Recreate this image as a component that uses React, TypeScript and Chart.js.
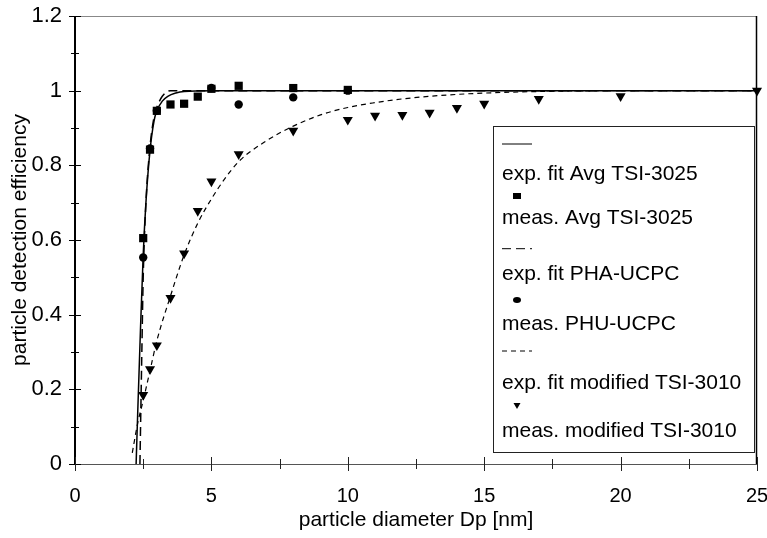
import React, { useEffect, useRef } from "react";
import { Chart, registerables } from "chart.js";

Chart.register(...registerables);

// ---------- data ----------
const xTickValues = [0, 5, 10, 15, 20, 25];
const yTickValues = [0, 0.2, 0.4, 0.6, 0.8, 1, 1.2];

const seriesLabels = [
  "exp. fit Avg TSI-3025",
  "meas. Avg TSI-3025",
  "exp. fit PHA-UCPC",
  "meas. PHU-UCPC",
  "exp. fit modified TSI-3010",
  "meas. modified TSI-3010",
];

// exp. fit Avg TSI-3025 (solid)
const fitTsi3025Dp = [2.24, 2.3, 2.4, 2.5, 2.6, 2.75, 2.9, 3.0, 3.2, 3.4, 3.7, 4, 5, 25];
const fitTsi3025Eff = [0, 0.14, 0.36, 0.56, 0.7, 0.84, 0.92, 0.946, 0.972, 0.985, 0.994, 0.998, 1.0, 1.0];

// meas. Avg TSI-3025 (squares)
const measTsi3025Dp = [2.5, 2.75, 3, 3.5, 4, 4.5, 5, 6, 8, 10];
const measTsi3025Eff = [0.605, 0.842, 0.946, 0.963, 0.965, 0.984, 1.005, 1.013, 1.007, 1.002];

// exp. fit PHA-UCPC (long dashes)
const fitPhaDp = [2.38, 2.45, 2.5, 2.6, 2.75, 2.9, 3.0, 3.2, 3.5, 25];
const fitPhaEff = [0, 0.3, 0.5, 0.7, 0.85, 0.93, 0.955, 0.985, 1.0, 1.0];

// meas. PHU-UCPC (circles)
const measPhuDp = [2.5, 2.75, 3, 5, 6, 8, 10];
const measPhuEff = [0.553, 0.845, 0.946, 1.007, 0.963, 0.982, 1.0];

// exp. fit modified TSI-3010 (short dashes)
const fitTsi3010Dp = [2.1, 2.3, 2.5, 2.75, 3, 3.5, 4, 4.5, 5, 5.5, 6, 7, 8, 9, 10, 11, 12, 14, 16, 18, 20, 25];
const fitTsi3010Eff = [0.03, 0.11, 0.17, 0.25, 0.33, 0.45, 0.56, 0.645, 0.71, 0.765, 0.81, 0.865, 0.905, 0.935, 0.955, 0.968, 0.978, 0.99, 0.996, 0.999, 1.0, 1.0];

// meas. modified TSI-3010 (triangles)
const measTsi3010Dp = [2.5, 2.75, 3, 3.5, 4, 4.5, 5, 6, 8, 10, 11, 12, 13, 14, 15, 17, 20, 25];
const measTsi3010Eff = [0.185, 0.254, 0.318, 0.445, 0.564, 0.678, 0.757, 0.83, 0.893, 0.922, 0.933, 0.935, 0.941, 0.954, 0.965, 0.978, 0.985, 1.0];

const FONT = "'Liberation Sans', Arial, sans-serif";

const pts = (xs: number[], ys: number[]) => xs.map((x, i) => ({ x, y: ys[i] }));

const decoPlugin = {
  id: "deco",
  beforeDatasetsDraw(chart: any) {
    const { ctx, chartArea: a, scales } = chart;
    const xs = scales.x;
    const ys = scales.y;
    ctx.save();
    // top border
    ctx.strokeStyle = "#888";
    ctx.lineWidth = 1;
    ctx.beginPath();
    ctx.moveTo(a.left, a.top + 0.5);
    ctx.lineTo(a.right, a.top + 0.5);
    ctx.stroke();
    // right border
    ctx.strokeStyle = "#000";
    ctx.lineWidth = 1.5;
    ctx.beginPath();
    ctx.moveTo(a.right - 0.5, a.top);
    ctx.lineTo(a.right - 0.5, a.bottom);
    ctx.stroke();
    // bottom axis
    ctx.strokeStyle = "#555";
    ctx.lineWidth = 1;
    ctx.beginPath();
    ctx.moveTo(a.left, a.bottom + 0.5);
    ctx.lineTo(a.right, a.bottom + 0.5);
    ctx.stroke();
    // left axis
    ctx.strokeStyle = "#000";
    ctx.lineWidth = 2;
    ctx.beginPath();
    ctx.moveTo(a.left, a.top);
    ctx.lineTo(a.left, a.bottom + 1);
    ctx.stroke();
    // y ticks (crossing)
    ctx.lineWidth = 1;
    ctx.strokeStyle = "#000";
    for (let i = 0; i <= 12; i++) {
      const v = i / 10;
      const py = Math.round(ys.getPixelForValue(v)) + 0.5;
      const h = i % 2 === 0 ? 6 : 4;
      ctx.beginPath();
      ctx.moveTo(a.left - h, py);
      ctx.lineTo(a.left + h, py);
      ctx.stroke();
    }
    // x ticks (crossing)
    ctx.strokeStyle = "#222";
    for (let i = 0; i <= 10; i++) {
      const v = i * 2.5;
      const px = Math.round(xs.getPixelForValue(v)) + 0.5;
      const h = i % 2 === 0 ? 7 : 5;
      ctx.beginPath();
      ctx.moveTo(px, a.bottom - h);
      ctx.lineTo(px, a.bottom + h);
      ctx.stroke();
    }
    ctx.restore();
  },
  afterDraw(chart: any) {
    const { ctx, chartArea: a } = chart;
    const bx = a.right - 264;
    const by = a.top + 110;
    const bw = 261;
    const bh = 326;
    ctx.save();
    ctx.fillStyle = "#fff";
    ctx.fillRect(bx, by, bw, bh);
    ctx.strokeStyle = "#222";
    ctx.lineWidth = 1;
    ctx.strokeRect(bx + 0.5, by + 0.5, bw, bh);

    const textX = bx + 9;
    const markX = bx + 24;
    const textRows = [48.5, 92, 148, 198.6, 257, 305];
    const symRows = [18, 70, 122.7, 174, 225, 280];
    const ds = chart.data.datasets;
    ctx.fillStyle = "#000";
    ctx.font = `21px ${FONT}`;
    ctx.textBaseline = "middle";
    ctx.textAlign = "left";
    for (let i = 0; i < ds.length; i++) {
      const sy = by + symRows[i];
      const d = ds[i];
      if (d.showLine) {
        ctx.save();
        ctx.strokeStyle = "#000";
        ctx.lineWidth = 1;
        ctx.setLineDash(d.borderDash || []);
        ctx.beginPath();
        ctx.moveTo(textX, sy);
        ctx.lineTo(textX + 30, sy);
        ctx.stroke();
        ctx.restore();
      } else {
        ctx.save();
        ctx.fillStyle = "#000";
        if (d.pointStyle === "rect") {
          ctx.fillRect(markX - 4, sy - 3, 8, 6);
        } else if (d.pointStyle === "circle") {
          ctx.beginPath();
          ctx.ellipse(markX, sy, 4, 3, 0, 0, Math.PI * 2);
          ctx.fill();
        } else {
          ctx.beginPath();
          ctx.moveTo(markX - 3.5, sy - 3);
          ctx.lineTo(markX + 3.5, sy - 3);
          ctx.lineTo(markX, sy + 3);
          ctx.closePath();
          ctx.fill();
        }
        ctx.restore();
      }
      ctx.fillText(d.label, textX, by + textRows[i]);
    }
    ctx.restore();
  },
};

export default function App() {
  const ref = useRef<HTMLCanvasElement | null>(null);

  useEffect(() => {
    if (!ref.current) return;
    const lineBase = {
      showLine: true,
      pointRadius: 0,
      borderColor: "#000",
      backgroundColor: "#000",
      cubicInterpolationMode: "monotone" as const,
      clip: false as const,
    };
    const pointBase = {
      showLine: false,
      borderColor: "#000",
      backgroundColor: "#000",
      borderWidth: 0,
      clip: false as const,
    };
    const chart = new Chart(ref.current, {
      type: "scatter",
      data: {
        datasets: [
          { ...lineBase, label: seriesLabels[0], data: pts(fitTsi3025Dp, fitTsi3025Eff), borderWidth: 1.5, borderDash: [] },
          { ...pointBase, label: seriesLabels[1], data: pts(measTsi3025Dp, measTsi3025Eff), pointStyle: "rect", pointRadius: 5.8 },
          { ...lineBase, label: seriesLabels[2], data: pts(fitPhaDp, fitPhaEff), borderWidth: 1.5, borderDash: [9, 5] },
          { ...pointBase, label: seriesLabels[3], data: pts(measPhuDp, measPhuEff), pointStyle: "circle", pointRadius: 4.2 },
          { ...lineBase, label: seriesLabels[4], data: pts(fitTsi3010Dp, fitTsi3010Eff), borderWidth: 1.2, borderDash: [5, 4] },
          { ...pointBase, label: seriesLabels[5], data: pts(measTsi3010Dp, measTsi3010Eff), pointStyle: "triangle", rotation: 180, pointRadius: 5.8 },
        ],
      } as any,
      options: {
        animation: false,
        responsive: false,
        layout: { padding: { top: 16, right: 10, left: 0, bottom: 0 } },
        plugins: { legend: { display: false }, tooltip: { enabled: false } },
        scales: {
          x: {
            type: "linear",
            min: 0,
            max: 25,
            afterBuildTicks: (s: any) => {
              s.ticks = xTickValues.map((v) => ({ value: v }));
            },
            afterFit: (s: any) => {
              s.height = 74;
              s.paddingLeft = 0;
              s.paddingRight = 0;
            },
            ticks: { color: "#000", font: { family: FONT, size: 20 }, padding: 20, maxRotation: 0 },
            grid: { display: false, drawTicks: false },
            border: { display: false },
            title: {
              display: true,
              text: "particle diameter Dp [nm]",
              color: "#000",
              font: { family: FONT, size: 21 },
              padding: { top: 0, bottom: 5 },
            },
          },
          y: {
            type: "linear",
            min: 0,
            max: 1.2,
            afterBuildTicks: (s: any) => {
              s.ticks = yTickValues.map((v) => ({ value: v }));
            },
            afterFit: (s: any) => {
              s.width = 75;
              s.paddingTop = 0;
              s.paddingBottom = 0;
            },
            ticks: {
              color: "#000",
              font: { family: FONT, size: 22 },
              padding: 13,
              callback: (v: any) => String(v),
            },
            grid: { display: false, drawTicks: false },
            border: { display: false },
            title: {
              display: true,
              text: "particle detection efficiency",
              color: "#000",
              font: { family: FONT, size: 21 },
              padding: { top: 8, bottom: 0 },
            },
          },
        },
      } as any,
      plugins: [decoPlugin],
    });
    return () => chart.destroy();
  }, []);

  return (
    <div style={{ position: "fixed", left: 0, top: 0, width: 767, height: 538, background: "#fff" }}>
      <canvas ref={ref} width={767} height={538} style={{ width: 767, height: 538, display: "block" }} />
    </div>
  );
}
